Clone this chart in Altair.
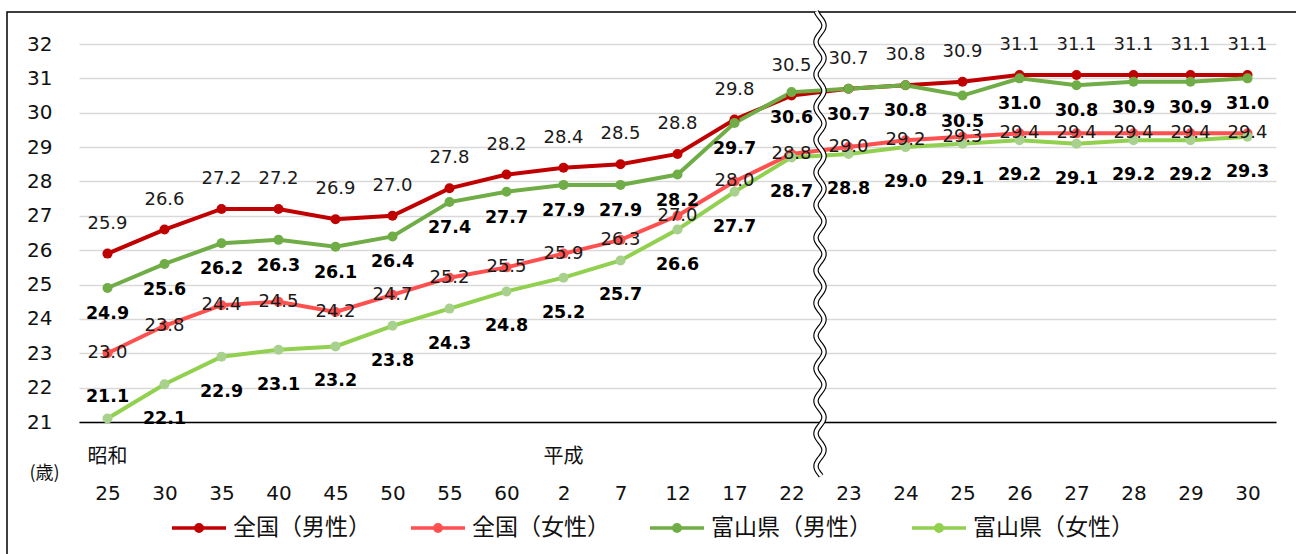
import altair as alt
import pandas as pd
import numpy as np

# ---- data ----
x_labels = ['25', '30', '35', '40', '45', '50', '55', '60', '2', '7', '12', '17', '22',
            '23', '24', '25', '26', '27', '28', '29', '30']
series_names = ['全国（男性）', '全国（女性）', '富山県（男性）', '富山県（女性）']
national_male = [25.9, 26.6, 27.2, 27.2, 26.9, 27.0, 27.8, 28.2, 28.4, 28.5, 28.8, 29.8, 30.5,
                 30.7, 30.8, 30.9, 31.1, 31.1, 31.1, 31.1, 31.1]
national_female = [23.0, 23.8, 24.4, 24.5, 24.2, 24.7, 25.2, 25.5, 25.9, 26.3, 27.0, 28.0, 28.8,
                   29.0, 29.2, 29.3, 29.4, 29.4, 29.4, 29.4, 29.4]
toyama_male = [24.9, 25.6, 26.2, 26.3, 26.1, 26.4, 27.4, 27.7, 27.9, 27.9, 28.2, 29.7, 30.6,
               30.7, 30.8, 30.5, 31.0, 30.8, 30.9, 30.9, 31.0]
toyama_female = [21.1, 22.1, 22.9, 23.1, 23.2, 23.8, 24.3, 24.8, 25.2, 25.7, 26.6, 27.7, 28.7,
                 28.8, 29.0, 29.1, 29.2, 29.1, 29.2, 29.2, 29.3]
era_labels = ['昭和', '平成']
era_index = [0, 8]
break_index = 12.5          # axis break between "22" and "23"
y_ticks = list(range(21, 33))

line_colors = ['#C00000', '#FF5050', '#70AD47', '#92D050']
point_colors = ['#C00000', '#FF5050', '#70AD47', '#A9D18E']

W, H = 1197, 378
NUM_FONT = 'DejaVu Sans'
JP_FONT = 'Noto Sans CJK JP'

rows = []
for name, vals in zip(series_names, [national_male, national_female, toyama_male, toyama_female]):
    for i, v in enumerate(vals):
        rows.append({'idx': i, 'value': v, 'series': name})
df = pd.DataFrame(rows)

# decorative wavy break line (double line: black under white)
wy = np.arange(32.95, 19.40, -0.04)
wave = pd.DataFrame({'value': wy,
                     'idx': break_index + 0.07 * np.sin(2 * np.pi * wy / 0.95),
                     'k': np.arange(len(wy))})

era_df = pd.DataFrame({'idx': era_index, 'label': era_labels})

label_expr = '[' + ','.join(f"'{l}'" for l in x_labels) + '][datum.value]'

x_enc = alt.X('idx:Q',
              scale=alt.Scale(domain=[-0.5, len(x_labels) - 0.5], nice=False, zero=False),
              axis=alt.Axis(values=list(range(len(x_labels))), labelExpr=label_expr,
                            title=None, grid=False, ticks=False, labelPadding=71,
                            labelBaseline='middle', labelFont=NUM_FONT, labelFontSize=20,
                            labelColor='#111', domainColor='#000', domainWidth=1.5,
                            labelFlush=False, labelOverlap=False))
y_enc = alt.Y('value:Q',
              scale=alt.Scale(domain=[21, 32], nice=False, zero=False),
              axis=alt.Axis(values=y_ticks, title='(歳)', titleAngle=0, titleX=-35,
                            titleY=H + 51, titleAlign='center', titleBaseline='middle',
                            titleFont=JP_FONT, titleFontSize=18, titleFontWeight='normal',
                            titleColor='#111', ticks=False, domain=False, labelPadding=27,
                            labelFont=NUM_FONT, labelFontSize=20, labelColor='#111',
                            gridColor='#d9d9d9', gridWidth=1.6))

base = alt.Chart(df)

# legend symbol: a line with a (ring-filled) dot in the middle
sym_path = ('M-1,0L1,0'
            'M0.12,0A0.12,0.12 0 1,1 -0.12,0A0.12,0.12 0 1,1 0.12,0'
            'M0.04,0A0.04,0.04 0 1,1 -0.04,0A0.04,0.04 0 1,1 0.04,0')

legend = alt.Legend(
    title=None, orient='none', direction='horizontal', legendX=91, legendY=455,
    symbolType=sym_path, symbolSize=2916, symbolStrokeWidth=3.5,
    labelFont=JP_FONT, labelFontSize=23, labelColor='#111', labelLimit=400,
    columnPadding=33, labelOffset=5)

lines = base.mark_line(strokeWidth=4).encode(
    x=x_enc, y=y_enc,
    color=alt.Color('series:N', scale=alt.Scale(domain=series_names, range=line_colors),
                    legend=legend),
    detail='series:N')

points = base.mark_circle(size=100, opacity=1).encode(
    x=x_enc, y=y_enc,
    fill=alt.Fill('series:N', scale=alt.Scale(domain=series_names, range=point_colors),
                  legend=None))

wave_black = alt.Chart(wave).mark_line(color='#000', strokeWidth=5.5, strokeCap='butt').encode(
    x=x_enc, y=y_enc, order='k:Q')
wave_white = alt.Chart(wave).mark_line(color='#fff', strokeWidth=3.2, strokeCap='butt').encode(
    x=x_enc, y=y_enc, order='k:Q')


def labels(name, dy, bold, extra_filter=None):
    c = base.transform_filter(alt.datum.series == name)
    if extra_filter is not None:
        c = c.transform_filter(extra_filter)
    return c.mark_text(dy=dy, font=NUM_FONT, fontSize=17.5 if bold else 18,
                       fontWeight='bold' if bold else 'normal',
                       color='#000' if bold else '#1a1a1a').encode(
        x=x_enc, y=y_enc, text=alt.Text('value:Q', format='.1f'))


lab_nm = labels(series_names[0], -30, False)
lab_nf = labels(series_names[1], 0, False)
lab_tm = labels(series_names[2], 26, True)
lab_tf_below = labels(series_names[3], 35, True, alt.datum.value > 21.5)
lab_tf_above = labels(series_names[3], -22, True, alt.datum.value <= 21.5)

era = alt.Chart(era_df).mark_text(font=JP_FONT, fontSize=20, color='#111',
                                  baseline='middle').encode(
    x=x_enc, y=alt.value(H + 35), text='label:N')

frame = alt.Chart(pd.DataFrame({'a': [0]})).mark_rect(
    fill='transparent', stroke='#000', strokeWidth=1.5).encode(
    x=alt.value(-72), x2=alt.value(1222), y=alt.value(-32), y2=alt.value(H + 150))

chart = alt.layer(frame, lines, points, wave_black, wave_white,
                  lab_nm, lab_nf, lab_tm, lab_tf_below, lab_tf_above, era).properties(
    width=W, height=H,
    autosize=alt.AutoSizeParams(type='none'),
    padding={'left': 79, 'top': 44, 'right': 20, 'bottom': 132},
    background='white'
).configure_view(stroke=None)

chart.save('out.html', embed_options={'renderer': 'svg', 'actions': False})
